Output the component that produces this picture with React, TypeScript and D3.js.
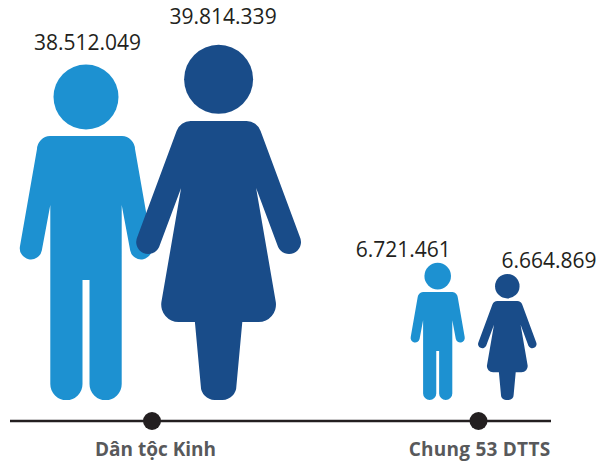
import React from "react";
import * as d3 from "d3";

const categories = ["Dân tộc Kinh", "Chung 53 DTTS"];
const maleValues = [38512049, 6721461];
const femaleValues = [39814339, 6664869];
const maleLabels = ["38.512.049", "6.721.461"];
const femaleLabels = ["39.814.339", "6.664.869"];

const W = 598, H = 462, BASE = 400, AXIS_Y = 421;
const BLUE = "#1d91d1", NAVY = "#194c89", INK = "#231f20", LABEL = "#58595b";

// Pictogram outlines drawn at reference size, origin = feet centre.
const MAN_H = 335, WOMAN_H = 355;
const manPath =
  "M-36,-264 A13.5,13.5 0 0 0 -49,-251 L-66,-154 A11,11 0 0 0 -44.2,-149.5 L-35.7,-195 L-35.7,-16 A16,16 0 0 0 -3.5,-16 L-3.5,-120 L3.5,-120 L3.5,-16 A16,16 0 0 0 35.7,-16 L35.7,-195 L44.2,-149.5 A11,11 0 0 0 66,-154 L49,-251 A13.5,13.5 0 0 0 36,-264 Z";
const womanPath =
  "M-28,-279 A15,15 0 0 0 -42,-269 L-81.3,-163 A11.5,11.5 0 0 0 -59.5,-153 L-37.5,-212 L-57.2,-98 A17.5,17.5 0 0 0 -40,-78 L-23.7,-78 L-17.8,-14 A14,14 0 0 0 -4,0 L4,0 A14,14 0 0 0 17.8,-14 L23.7,-78 L40,-78 A17.5,17.5 0 0 0 57.2,-98 L37.5,-212 L59.5,-153 A11.5,11.5 0 0 0 81.3,-163 L42,-269 A15,15 0 0 0 28,-279 Z";

export default function App() {
  const x = d3.scalePoint<string>().domain(categories).range([152, 478.5]);
  const axisScale = d3.scaleLinear().domain([0, 1]).range([10, 551]);
  const manHeight = d3.scaleLinear().domain([maleValues[1], maleValues[0]]).range([137, MAN_H]);
  const womanHeight = d3.scaleLinear().domain([femaleValues[1], femaleValues[0]]).range([126, WOMAN_H]);
  const manOffset = [-66, -40.8];
  const womanOffset = [66.6, 28.8];
  const manLabelOffset = [1.5, -34.5];
  const womanLabelOffset = [4.5, 41.7];
  const manLabelY = [50, 257];
  const womanLabelY = [24, 268];
  const labelDx = [3.5, 1];
  const labelSpacing = [0, 0.25];
  const num = { fontFamily: "'Open Sans', sans-serif", fontSize: 21, fill: INK, textAnchor: "middle" as const };

  return (
    <svg width={W} height={H} style={{ position: "absolute", left: 0, top: 0, display: "block" }}>
      {categories.map((c, i) => {
        const s = manHeight(maleValues[i]) / MAN_H;
        const cx = (x(c) as number) + manOffset[i];
        return (
          <g key={"m" + c}>
            <g transform={`translate(${cx},${BASE}) scale(${s})`} fill={BLUE}>
              <circle cx={0} cy={-303} r={32.5} />
              <path d={manPath} />
            </g>
            <text x={cx + manLabelOffset[i]} y={manLabelY[i]} {...num}>{maleLabels[i]}</text>
          </g>
        );
      })}
      {categories.map((c, i) => {
        const s = womanHeight(femaleValues[i]) / WOMAN_H;
        const cx = (x(c) as number) + womanOffset[i];
        return (
          <g key={"f" + c}>
            <g transform={`translate(${cx},${BASE}) scale(${s})`} fill={NAVY}>
              <circle cx={0} cy={-320.7} r={34.5} />
              <path d={womanPath} />
            </g>
            <text x={cx + womanLabelOffset[i]} y={womanLabelY[i]} {...num}>{femaleLabels[i]}</text>
          </g>
        );
      })}
      <line x1={axisScale(0)} x2={axisScale(1)} y1={AXIS_Y} y2={AXIS_Y} stroke={INK} strokeWidth={2.6} />
      {categories.map((c, i) => (
        <g key={"a" + c}>
          <circle cx={x(c)} cy={AXIS_Y} r={9} fill={INK} />
          <text x={(x(c) as number) + labelDx[i]} y={456} textAnchor="middle" letterSpacing={labelSpacing[i]}
            fontFamily="'Open Sans', sans-serif" fontWeight={700} fontSize={19} fill={LABEL}>{c}</text>
        </g>
      ))}
    </svg>
  );
}
